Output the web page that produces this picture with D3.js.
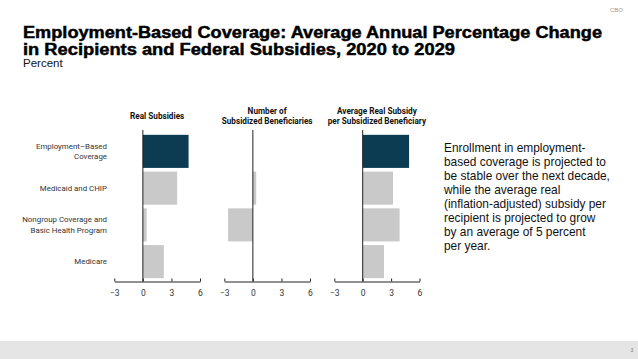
<!DOCTYPE html>
<html><head><meta charset="utf-8">
<script src="https://cdn.jsdelivr.net/npm/d3@7"></script>
<style>body{margin:0;background:#fff;}svg{display:block;font-family:"Liberation Sans",Arial,sans-serif;}</style>
</head><body>
<svg id="c" width="638" height="359"></svg>
<script>
const categories = ["Employment\u2013Based|Coverage", "Medicaid and CHIP", "Nongroup Coverage and|Basic Health Program", "Medicare"];
const panelTitles = [["Real Subsidies"], ["Number of", "Subsidized Beneficiaries"], ["Average Real Subsidy", "per Subsidized Beneficiary"]];
const realSubsidies = [4.8, 3.6, 0.4, 2.2];
const beneficiaries = [0, 0.35, -2.6, 0];
const avgSubsidy = [4.9, 3.2, 3.9, 2.25];
const tickValues = [-3, 0, 3, 6];
const highlight = [true, false, false, false];

const svg = d3.select("#c");
const dark = "#0b3c52", grey = "#c9c9c9";

// header
svg.append("text").attr("x", 610).attr("y", 12).attr("font-size", 6).attr("fill", "#999").text("CBO");
const titleLines = [["Employment-Based Coverage: Average Annual Percentage Change", 37.5, 579], ["in Recipients and Federal Subsidies, 2020 to 2029", 54.5, 432]];
titleLines.forEach(([s, yy, w]) => {
  svg.append("text").attr("x", 23).attr("y", yy).attr("font-weight", "bold").attr("font-size", 15.6)
    .attr("fill", "#000").attr("stroke", "#000").attr("stroke-width", 0.45)
    .attr("textLength", w).attr("lengthAdjust", "spacingAndGlyphs").text(s);
});
svg.append("text").attr("x", 23).attr("y", 67).attr("font-size", 11.5).attr("fill", "#111").text("Percent");

// footer
svg.append("rect").attr("x", 0).attr("y", 341).attr("width", 638).attr("height", 18).attr("fill", "#e5e5e5");
svg.append("text").attr("x", 632).attr("y", 352).attr("font-size", 5).attr("fill", "#777").attr("text-anchor", "middle").text("3");

const y = d3.scaleBand().domain(d3.range(categories.length)).range([133, 280]).paddingInner(0.1).paddingOuter(0.05);

// category labels
const lab = svg.append("g").attr("font-family", "Roboto, sans-serif").attr("font-size", 7.9).attr("fill", "#333").attr("text-anchor", "end");
categories.forEach((c, i) => {
  const lines = c.split("|");
  const cy = y(i) + y.bandwidth() / 2;
  lines.forEach((l, j) => {
    lab.append("text").attr("x", 107).attr("y", cy + (j - (lines.length - 1) / 2) * 10.5 + 2.8).text(l);
  });
});

const panels = [
  {data: realSubsidies, x0: 114.3, x1: 200},
  {data: beneficiaries, x0: 224.3, x1: 310},
  {data: avgSubsidy, x0: 334.3, x1: 419.5}
];
panels.forEach((p, k) => {
  const x = d3.scaleLinear().domain([-3, 6]).range([p.x0, p.x1]);
  const g = svg.append("g");
  g.selectAll("rect").data(p.data).join("rect")
    .attr("x", d => x(Math.min(0, d))).attr("width", d => Math.abs(x(d) - x(0)))
    .attr("y", (d, i) => y(i)).attr("height", y.bandwidth())
    .attr("fill", (d, i) => highlight[i] && k !== 1 ? dark : grey);
  g.append("line").attr("x1", x(0)).attr("x2", x(0)).attr("y1", 130).attr("y2", 281.5).attr("stroke", "#222").attr("stroke-width", 1);
  const ax = g.append("g").attr("transform", "translate(0,281.5)")
    .call(d3.axisBottom(x).tickValues(tickValues).tickSizeInner(-3).tickSizeOuter(0).tickPadding(8).tickFormat(d => d < 0 ? "\u2212" + Math.abs(d) : d));
  ax.select(".domain").attr("stroke", "#222");
  ax.selectAll(".tick line").attr("stroke", "#222");
  ax.selectAll(".tick text").attr("font-family", "Roboto, sans-serif").attr("font-size", 8.5).attr("fill", "#333");
  const cx = x(1.5);
  const tl = panelTitles[k];
  const lastBase = tl.length > 1 ? 124 : 119;
  tl.forEach((l, j) => {
    g.append("text").attr("x", cx).attr("y", lastBase - (tl.length - 1 - j) * 10).attr("text-anchor", "middle")
      .attr("font-family", "Roboto, sans-serif").attr("font-weight", "bold").attr("font-size", 8.2).attr("fill", "#111").text(l);
  });
});

// side note
const note = ["Enrollment in employment-", "based coverage is projected to", "be stable over the next decade,", "while the average real", "(inflation-adjusted) subsidy per", "recipient is projected to grow", "by an average of 5 percent", "per year."];
const nt = svg.append("text").attr("font-size", 11.9).attr("fill", "#111");
note.forEach((l, i) => nt.append("tspan").attr("x", 444).attr("y", 152 + i * 14).text(l));
</script>
</body></html>
